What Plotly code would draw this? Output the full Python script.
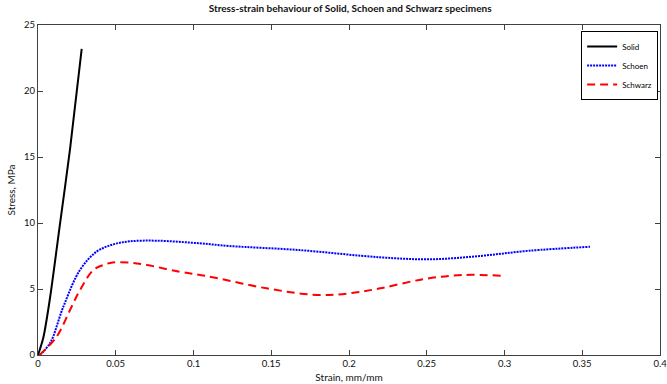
import plotly.graph_objects as go

# Data
solid_strain = [0.0, 0.0034, 0.0077, 0.0141, 0.0206, 0.0281]
solid_stress = [0.0, 1.3, 4.3, 9.9, 15.6, 23.2]

schoen_strain = [0.001, 0.0077, 0.0163, 0.027, 0.0377, 0.0484, 0.059, 0.0765,
                 0.104, 0.123, 0.168, 0.22, 0.252, 0.284, 0.316, 0.355]
schoen_stress = [0.0, 0.89, 3.66, 6.44, 7.83, 8.38, 8.61, 8.66,
                 8.46, 8.26, 7.95, 7.4, 7.25, 7.5, 7.9, 8.2]

schwarz_strain = [0.001, 0.012, 0.0206, 0.027, 0.0356, 0.042, 0.048, 0.059, 0.07,
                  0.091, 0.1085, 0.147, 0.179, 0.2, 0.22, 0.248, 0.273, 0.299]
schwarz_stress = [0.0, 1.39, 3.41, 4.92, 6.44, 6.82, 7.0, 7.0, 6.82,
                  6.31, 5.98, 5.05, 4.55, 4.67, 5.05, 5.75, 6.06, 6.0]

x_ticks = [0, 0.05, 0.1, 0.15, 0.2, 0.25, 0.3, 0.35, 0.4]
x_tick_labels = ["0", "0.05", "0.1", "0.15", "0.2", "0.25", "0.3", "0.35", "0.4"]
y_ticks = [0, 5, 10, 15, 20, 25]

FONT = "Lato, Open Sans, Liberation Sans, sans-serif"
AX = "#404040"
TXT = "#111"

fig = go.Figure()
fig.add_trace(go.Scatter(x=solid_strain, y=solid_stress, name="Solid", mode="lines",
                         line=dict(color="black", width=2, shape="spline", smoothing=0.8)))
fig.add_trace(go.Scatter(x=schoen_strain, y=schoen_stress, name="Schoen", mode="lines",
                         line=dict(color="#0000FF", width=2, dash="2px,1px", shape="spline")))
fig.add_trace(go.Scatter(x=schwarz_strain, y=schwarz_stress, name="Schwarz", mode="lines",
                         line=dict(color="#FF0000", width=2, dash="8px,5px", shape="spline")))

axis_common = dict(showgrid=False, zeroline=False, showline=True, linecolor=AX, linewidth=1,
                   mirror="allticks", ticks="inside", ticklen=5, tickcolor=AX, automargin=False,
                   ticklabeloverflow="allow",
                   tickfont=dict(family=FONT, size=9.5, color=TXT))

fig.update_layout(
    width=667, height=384,
    margin=dict(l=38, r=7, t=25, b=29),
    paper_bgcolor="white", plot_bgcolor="white",
    font=dict(family=FONT, size=9.5, color=TXT),
    title=dict(text="<b>Stress-strain behaviour of Solid, Schoen and Schwarz specimens</b>",
               x=0.525, xanchor="center", y=0.977, yanchor="middle",
               font=dict(family=FONT, size=10, color=TXT)),
    xaxis=dict(range=[0, 0.4], tickvals=x_ticks, ticktext=x_tick_labels,
               title=dict(text="Strain, mm/mm", standoff=5, font=dict(family=FONT, size=10, color=TXT)),
               **axis_common),
    yaxis=dict(range=[0, 25], tickvals=y_ticks,
               title=dict(text="Stress, MPa", standoff=6, font=dict(family=FONT, size=10, color=TXT)),
               **axis_common),
    legend=dict(x=0.997, xanchor="right", y=0.982, yanchor="top",
                bgcolor="white", bordercolor="black", borderwidth=1,
                font=dict(family=FONT, size=8, color="black"),
                itemwidth=30, tracegroupgap=0),
    showlegend=True,
)

fig.write_html("out.html")
